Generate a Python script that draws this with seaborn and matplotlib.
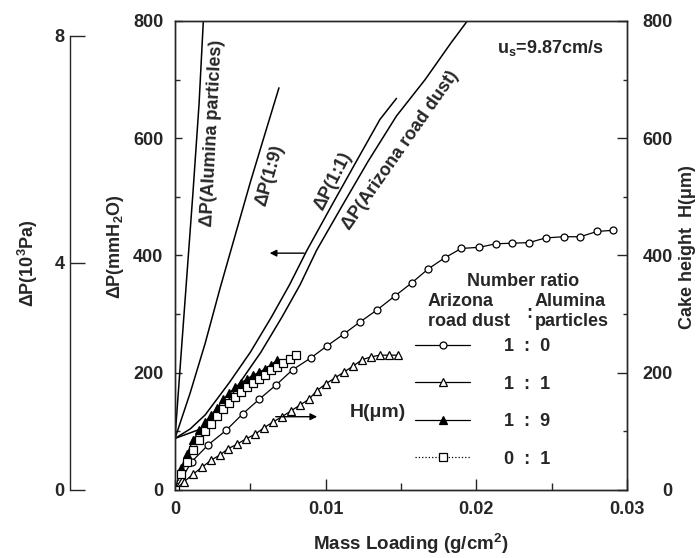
import matplotlib
matplotlib.use("Agg")
import matplotlib.pyplot as plt
import pandas as pd
import seaborn as sns

# pressure drop curves, mmH2O vs mass loading (g/cm2)
dp_alumina_x = [0, 0.0004, 0.0008, 0.0012, 0.0016, 0.00188]
dp_alumina_y = [88, 230, 370, 510, 660, 800]
dp_19_x = [0, 0.001, 0.002, 0.003, 0.004, 0.005, 0.006, 0.0069]
dp_19_y = [88, 165, 250, 345, 435, 525, 610, 686]
dp_11_x = [0, 0.001, 0.002, 0.0036, 0.005, 0.0064, 0.0076, 0.00876, 0.0105, 0.0122, 0.0136, 0.0147]
dp_11_y = [88, 104, 128, 183, 235, 295, 350, 409, 490, 568, 632, 668]
dp_az_x = [0, 0.0017, 0.0029, 0.0043, 0.0057, 0.0071, 0.0083, 0.0094, 0.0111, 0.0128, 0.0147, 0.0166, 0.0183, 0.0194]
dp_az_y = [88, 104, 128, 183, 235, 295, 350, 409, 485, 560, 638, 700, 762, 800]

# cake height H (um); number ratio Arizona road dust : Alumina particles
h10_x = [0, 0.0011, 0.0022, 0.0034, 0.0045, 0.0056, 0.0067, 0.0078, 0.009, 0.0101, 0.0112, 0.0123, 0.0134,
         0.0146, 0.0157, 0.0168, 0.0179, 0.019, 0.0202, 0.0213, 0.0224, 0.0235, 0.0246, 0.0258, 0.0269, 0.028, 0.0291]
h10_y = [0, 48, 77, 102, 130, 155, 179, 205, 225, 246, 266, 287, 307,
         331, 353, 377, 396, 412, 414, 420, 421, 422, 430, 432, 432, 441, 443]
h11_x = [0, 0.0006, 0.0012, 0.0018, 0.0024, 0.003, 0.0035, 0.0041, 0.0047, 0.0053, 0.0059, 0.0065, 0.0071,
         0.0077, 0.0083, 0.0089, 0.0094, 0.01, 0.0106, 0.0112, 0.0118, 0.0124, 0.013, 0.0136, 0.0142, 0.0148]
h11_y = [0, 14, 27, 39, 51, 60, 70, 78, 87, 95, 106, 116, 125,
         135, 145, 155, 169, 181, 191, 201, 211, 222, 227, 230, 230, 230]
h19_x = [0, 0.0004, 0.0008, 0.0012, 0.0016, 0.002, 0.0024, 0.0028, 0.0032, 0.0036, 0.004, 0.0044,
         0.0048, 0.0052, 0.0056, 0.006, 0.0064, 0.0068]
h19_y = [0, 38, 62, 85, 102, 116, 128, 140, 155, 165, 175, 183, 190, 196, 201, 207, 214, 222]
h01_x = [0, 0.0004, 0.0008, 0.0012, 0.0016, 0.002, 0.0024, 0.0028, 0.0032, 0.0036, 0.004, 0.0044,
         0.0048, 0.0052, 0.0056, 0.006, 0.0064, 0.0068, 0.0072, 0.0076, 0.008]
h01_y = [0, 28, 48, 68, 85, 100, 113, 126, 138, 148, 158, 167, 175, 183, 190, 197, 204, 210, 217, 223, 230]

ratio_labels = ["1  :  0", "1  :  1", "1  :  9", "0  :  1"]

sns.set_style("ticks")
plt.rcParams["font.family"] = ["Liberation Sans", "DejaVu Sans"]
plt.rcParams["font.weight"] = "bold"
plt.rcParams["mathtext.fontset"] = "custom"
plt.rcParams["mathtext.rm"] = "Liberation Sans:bold"
plt.rcParams["mathtext.it"] = "Liberation Sans:bold"
plt.rcParams["mathtext.bf"] = "Liberation Sans:bold"
plt.rcParams["mathtext.default"] = "regular"
plt.rcParams["axes.linewidth"] = 1.0

W, H = 696, 558
fig = plt.figure(figsize=(6.96, 5.58), dpi=100)
ax = fig.add_axes([175 / W, 1 - 490 / H, 452 / W, 469 / H])

dp = pd.concat([
    pd.DataFrame({"x": dp_alumina_x, "dp": dp_alumina_y, "curve": "alumina"}),
    pd.DataFrame({"x": dp_19_x, "dp": dp_19_y, "curve": "1:9"}),
    pd.DataFrame({"x": dp_11_x, "dp": dp_11_y, "curve": "1:1"}),
    pd.DataFrame({"x": dp_az_x, "dp": dp_az_y, "curve": "arizona"}),
])
sns.lineplot(data=dp, x="x", y="dp", units="curve", estimator=None, sort=False,
             color="black", linewidth=1.1, ax=ax)

series = [
    (h10_x, h10_y, "o", "white", "-", 5.0),
    (h11_x, h11_y, "^", "white", "-", 5.5),
    (h19_x, h19_y, "^", "black", "-", 5.5),
    (h01_x, h01_y, "s", "white", ":", 5.5),
]
handles = []
for (xs, ys, mk, fc, ls, ms), lab in zip(series, ratio_labels):
    d = pd.DataFrame({"x": xs, "h": ys})
    sns.lineplot(data=d, x="x", y="h", ax=ax, color="black", linewidth=0.9, linestyle=ls,
                 marker=mk, markersize=ms, markerfacecolor=fc, markeredgecolor="black",
                 markeredgewidth=0.9, label=lab)
    handles.append(ax.lines[-1])

ax.set_xlim(0, 0.03)
ax.set_ylim(0, 800)
ax.set_xticks([0, 0.01, 0.02, 0.03])
ax.set_xticklabels(["0", "0.01", "0.02", "0.03"])
ax.set_xticks([0.005, 0.015, 0.025], minor=True)
ax.set_yticks([0, 200, 400, 600, 800])
ax.set_yticks([100, 300, 500, 700], minor=True)
ax.tick_params(axis="x", which="major", direction="in", length=8, width=1, pad=8, labelsize=13)
ax.tick_params(axis="x", which="minor", direction="in", length=5, width=1)
ax.tick_params(axis="y", which="major", direction="in", length=5, width=1, pad=8.5, labelsize=13)
ax.tick_params(axis="y", which="minor", direction="in", length=3.5, width=1)
ax.set_xlabel("")
ax.set_ylabel("")

ax.legend(handles, ratio_labels, loc="upper left", bbox_to_anchor=((415 - 175) / 452, (490 - 338) / 469),
          frameon=False, fontsize=13, handlelength=3.05, handletextpad=1.9, labelspacing=1.14,
          borderpad=0, borderaxespad=0, numpoints=1)

# right axis: cake height
axr = ax.twinx()
axr.set_ylim(0, 800)
axr.set_yticks([0, 200, 400, 600, 800])
axr.set_yticks([100, 300, 500, 700], minor=True)
axr.tick_params(axis="y", which="major", direction="in", length=7, width=1, pad=33, labelsize=13)
axr.tick_params(axis="y", which="minor", direction="in", length=3, width=1)
for t in axr.get_yticklabels():
    t.set_horizontalalignment("right")

# far left axis: pressure drop in 10^3 Pa
axl = fig.add_axes([70 / W, 1 - 490 / H, 0.001, 469 / H])
axl.set_ylim(0, 8.257)
axl.set_xticks([])
for s in ["top", "right", "bottom"]:
    axl.spines[s].set_visible(False)
axl.spines["left"].set_bounds(0, 8)
axl.set_yticks([0, 4, 8])
axl.tick_params(axis="y", direction="in", length=11, width=1, pad=4, labelsize=13)
axl.patch.set_visible(False)

# curve labels
ax.text(0.00246, 609, "ΔP(Alumina particles)", rotation=87, ha="center", va="center", fontsize=13)
ax.text(0.0063, 537, "ΔP(1:9)", rotation=74, ha="center", va="center", fontsize=13)
ax.text(0.01049, 527, "ΔP(1:1)", rotation=63, ha="center", va="center", fontsize=13)
ax.text(0.01495, 580, "ΔP(Arizona road dust)", rotation=55, ha="center", va="center", fontsize=13)
ax.text(0.0249, 754, "u$_s$=9.87cm/s", ha="center", va="center", fontsize=13)
ax.text(0.01347, 133, "H(μm)", ha="center", va="center", fontsize=14)
ax.annotate("", xy=(0.0061, 404), xytext=(0.00876, 404),
            arrowprops=dict(arrowstyle="-|>", color="black", lw=1, mutation_scale=10))
ax.annotate("", xy=(0.00962, 125), xytext=(0.0065, 125),
            arrowprops=dict(arrowstyle="-|>", color="black", lw=1, mutation_scale=10))

# legend header
tx = ax.transAxes
ax.text((523 - 175) / 452, (490 - 282) / 469, "Number ratio", transform=tx, ha="center", va="center", fontsize=13)
ax.text((428 - 175) / 452, (490 - 301) / 469, "Arizona", transform=tx, ha="left", va="center", fontsize=13)
ax.text((428 - 175) / 452, (490 - 321) / 469, "road dust", transform=tx, ha="left", va="center", fontsize=13)
ax.text((529 - 175) / 452, (490 - 314) / 469, ":", transform=tx, ha="center", va="center", fontsize=13)
ax.text((535 - 175) / 452, (490 - 301) / 469, "Alumina", transform=tx, ha="left", va="center", fontsize=13)
ax.text((535 - 175) / 452, (490 - 321) / 469, "particles", transform=tx, ha="left", va="center", fontsize=13)

# axis titles
fig.text(411 / W, 1 - 544 / H, "Mass Loading (g/cm$^2$)", ha="center", va="center", fontsize=13.5)
fig.text(116 / W, 1 - 247 / H, "ΔP(mmH$_2$O)", rotation=90, ha="center", va="center", fontsize=13)
fig.text(28 / W, 1 - 263 / H, "ΔP(10$^3$Pa)", rotation=90, ha="center", va="center", fontsize=13)
fig.text(687 / W, 1 - 247 / H, "Cake height  H(μm)", rotation=90, ha="center", va="center", fontsize=13)

fig.savefig("out.png", dpi=100)
